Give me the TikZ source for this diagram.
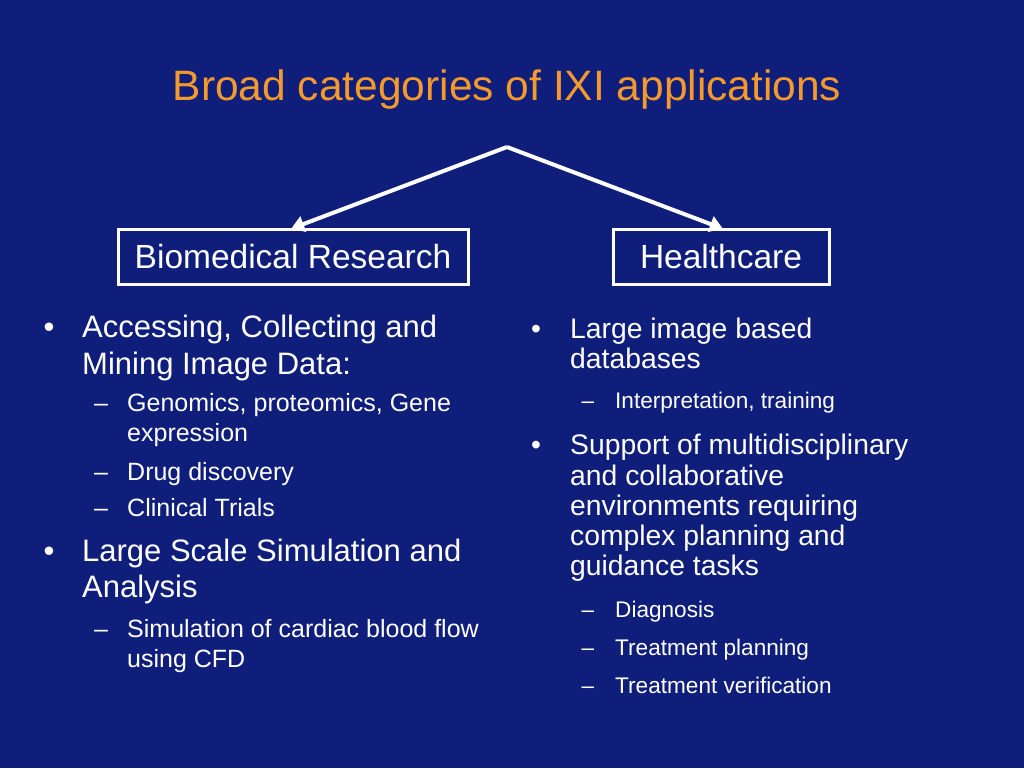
\documentclass[tikz,border=0pt]{standalone}
\usepackage{fontspec}
\setmainfont{Liberation Sans}
\usetikzlibrary{arrows.meta}
\definecolor{slideblue}{RGB}{14,30,122}
\definecolor{titleorange}{RGB}{243,153,45}
\begin{document}
\begin{tikzpicture}[x=1pt,y=-1pt,
    every node/.style={inner sep=0pt,text=white},
    catbox/.style={draw=white,line width=3pt,minimum height=55pt,
      font=\fontsize{33.5}{40}\selectfont},
    arr/.style={draw=white,line width=4pt,shorten >=-2pt,
      -{Triangle[length=13pt,width=16pt]}},
    lbig/.style={anchor=base west,font=\fontsize{31}{37}\selectfont},
    lsmall/.style={anchor=base west,font=\fontsize{25}{30}\selectfont},
    rbig/.style={anchor=base west,font=\fontsize{28.3}{30}\selectfont},
    rsmall/.style={anchor=base west,font=\fontsize{22.6}{27}\selectfont}]
        \fill[slideblue] (0,0) rectangle (1024,768);
        \useasboundingbox (0,0) rectangle (1024,768);
        % title
        \node[anchor=base,text=titleorange,font=\fontsize{42.5}{50}\selectfont]
          (title) at (507,100) {Broad categories of IXI applications};
        % the two categories
        \coordinate (apex) at (507,147);
        \node[catbox,minimum width=350pt] (bio)    at (293,257) {Biomedical Research};
        \node[catbox,minimum width=216pt] (health) at (721,257) {Healthcare};
        \draw[arr] (apex) -- (bio.north);
        \draw[arr] (apex) -- (health.north);
        % left column
        \node[anchor=base,font=\fontsize{31}{37}\selectfont] (lb1) at (49,337) {•};
        \node[lbig] (acc1) at (82,337) {Accessing, Collecting and};
        \node[lbig] (acc2) at (82,374) {Mining Image Data:};
        \node[anchor=base,font=\fontsize{25}{30}\selectfont] (ld1) at (101,411) {–};
        \node[lsmall] (gen1) at (127,411) {Genomics, proteomics, Gene};
        \node[lsmall] (gen2) at (127,441) {expression};
        \node[anchor=base,font=\fontsize{25}{30}\selectfont] (ld2) at (101,480) {–};
        \node[lsmall] (drug) at (127,480) {Drug discovery};
        \node[anchor=base,font=\fontsize{25}{30}\selectfont] (ld3) at (101,516) {–};
        \node[lsmall] (trials) at (127,516) {Clinical Trials};
        \node[anchor=base,font=\fontsize{31}{37}\selectfont] (lb2) at (49,561) {•};
        \node[lbig] (sim1) at (82,561) {Large Scale Simulation and};
        \node[lbig] (sim2) at (82,597) {Analysis};
        \node[anchor=base,font=\fontsize{25}{30}\selectfont] (ld4) at (101,637) {–};
        \node[lsmall] (cfd1) at (127,637) {Simulation of cardiac blood flow};
        \node[lsmall] (cfd2) at (127,667) {using CFD};
        % right column
        \node[anchor=base,font=\fontsize{28.3}{30}\selectfont] (rb1) at (536,338) {•};
        \node[rbig] (db1) at (570,338) {Large image based};
        \node[rbig] (db2) at (570,368) {databases};
        \node[anchor=base,font=\fontsize{22.6}{27}\selectfont] (rd1) at (588,408) {–};
        \node[rsmall] (interp) at (615,408) {Interpretation, training};
        \node[anchor=base,font=\fontsize{28.3}{30}\selectfont] (rb2) at (536,454) {•};
        \node[rbig] (sup1) at (570,454) {Support of multidisciplinary};
        \node[rbig] (sup2) at (570,485) {and collaborative};
        \node[rbig] (sup3) at (570,515) {environments requiring};
        \node[rbig] (sup4) at (570,545) {complex planning and};
        \node[rbig] (sup5) at (570,575) {guidance tasks};
        \node[anchor=base,font=\fontsize{22.6}{27}\selectfont] (rd2) at (588,617) {–};
        \node[rsmall] (diag) at (615,617) {Diagnosis};
        \node[anchor=base,font=\fontsize{22.6}{27}\selectfont] (rd3) at (588,655) {–};
        \node[rsmall] (plan) at (615,655) {Treatment planning};
        \node[anchor=base,font=\fontsize{22.6}{27}\selectfont] (rd4) at (588,693) {–};
        \node[rsmall] (verif) at (615,693) {Treatment verification};
      \end{tikzpicture}
\end{document}
